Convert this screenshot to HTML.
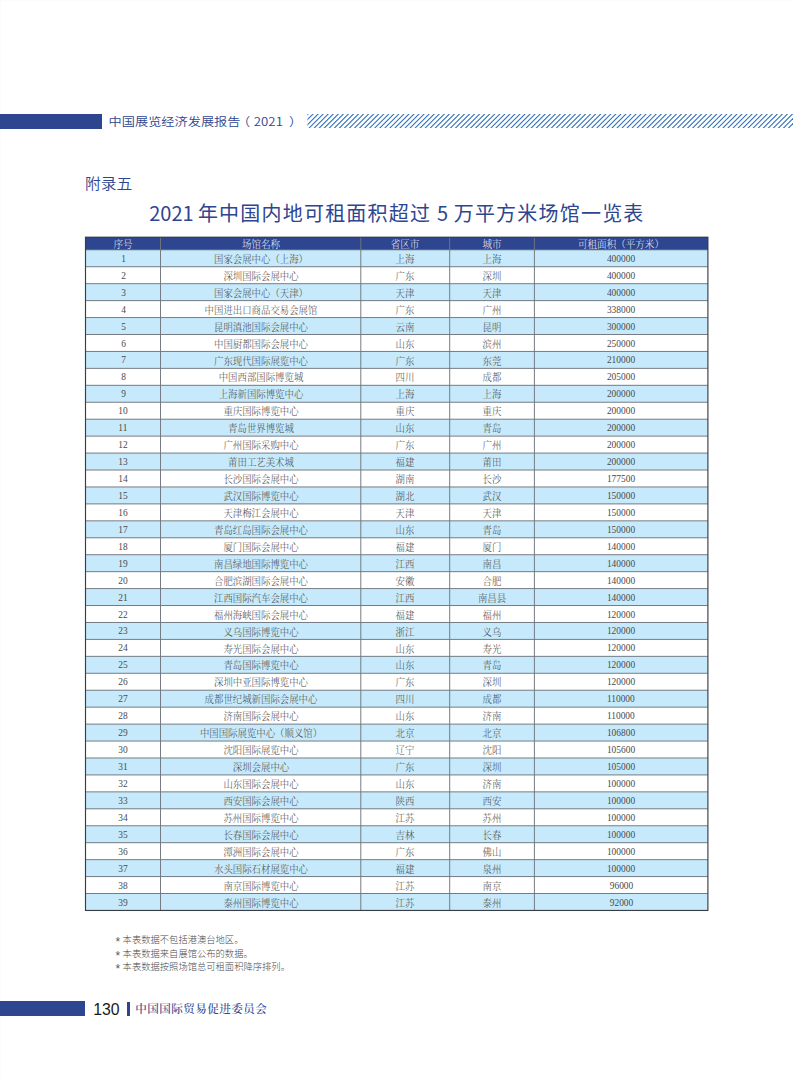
<!DOCTYPE html><html lang="zh-CN"><head><meta charset="utf-8"><title>附录五</title><style>
html,body{margin:0;padding:0;background:#fff;}
body::before{content:'';position:absolute;left:0;top:0;width:793px;height:1077px;box-sizing:border-box;border-left:1px solid #fcfcfc;border-top:1px solid #fcfcfc;}
body{width:793px;height:1077px;position:relative;overflow:hidden;font-family:"Liberation Sans","Noto Sans CJK SC",sans-serif;}
.abs{position:absolute;}
.hbar{left:0;top:114px;width:101.7px;height:14.7px;background:#2e4590;}
.htxt{left:108.6px;top:110.6px;height:21px;line-height:21px;font-size:13.2px;color:#2e4590;white-space:nowrap;font-weight:350;transform:scaleY(0.9);transform-origin:0 50%;font-family:"Noto Sans CJK SC","Liberation Sans",sans-serif;}
.htxt .pl{position:relative;left:-3.5px} .htxt .pr{position:relative;left:6px} .htxt .yr{letter-spacing:0.1px}
.app{left:85px;top:172px;height:24px;line-height:24px;font-size:15.8px;color:#2e4590;white-space:nowrap;font-weight:350;transform:scaleY(0.91);transform-origin:0 50%;font-family:"Noto Sans CJK SC","Liberation Sans",sans-serif;}
.title{left:149.2px;top:198px;height:30px;line-height:30px;font-size:20px;color:#2e4590;white-space:nowrap;font-weight:400;letter-spacing:1.21px;font-family:"Noto Sans CJK SC","Liberation Sans",sans-serif;}
.title b{font-weight:inherit;letter-spacing:0;} .title u{text-decoration:none;letter-spacing:-0.2px}
.row{left:85.5px;width:622.4px;}
.c{position:absolute;top:0;height:100%;text-align:center;white-space:nowrap;font-family:"Liberation Serif","Noto Serif CJK SC",serif;font-size:10px;line-height:18.14px;color:#4a4a4a;font-weight:300;}
.c span{display:inline-block;transform:scaleX(0.94);position:relative;top:1.1px}
.c.n span{top:0}
.h .c{color:#e8ecf6;font-size:10px;line-height:13.60px;}
.h .c span{transform:scaleX(0.955);top:0.4px}
.note{left:115.8px;font-size:9.3px;line-height:13.4px;height:13.4px;color:#4a4a4a;white-space:nowrap;font-weight:300;font-family:"Noto Sans CJK SC","Liberation Sans",sans-serif;}
.note i{font-style:normal;display:inline-block;width:6.8px;font-family:"Liberation Sans",sans-serif;font-size:12px;line-height:1px;position:relative;top:3px;left:-0.3px;color:#5a5a5a}
.fbar{left:0;top:1001.2px;width:85px;height:14.4px;background:#2e4590;}
.pno{left:93.3px;top:998.7px;height:21px;line-height:21px;font-size:15.8px;color:#1a1a1a;font-family:"Liberation Sans",sans-serif;}
.fsep{left:127.05px;top:1001.5px;width:2.75px;height:14.3px;background:#2e4590;}
.ftxt{left:135.3px;top:998.6px;height:21px;line-height:21px;font-size:11.6px;letter-spacing:0.4px;color:#2e4590;font-family:"Liberation Serif","Noto Serif CJK SC",serif;font-weight:500;white-space:nowrap;}
</style></head><body>
<div class="abs hbar"></div>
<div class="abs htxt">中国展览经济发展报告<span class="pl">（</span><span class="yr">2021</span><span class="pr">）</span></div>
<svg class="abs" style="left:0;top:0" width="793" height="140" viewBox="0 0 793 140"><svg x="307.4" y="114.1" width="485.60" height="13.80" viewBox="307.4 114.1 485.60 13.80" overflow="hidden"><g stroke="#3070bb" stroke-width="1.08"><line x1="299.87" y1="112.10" x2="282.07" y2="129.90"/><line x1="304.92" y1="112.10" x2="287.12" y2="129.90"/><line x1="309.96" y1="112.10" x2="292.16" y2="129.90"/><line x1="315.01" y1="112.10" x2="297.21" y2="129.90"/><line x1="320.05" y1="112.10" x2="302.25" y2="129.90"/><line x1="325.10" y1="112.10" x2="307.30" y2="129.90"/><line x1="330.15" y1="112.10" x2="312.35" y2="129.90"/><line x1="335.19" y1="112.10" x2="317.39" y2="129.90"/><line x1="340.24" y1="112.10" x2="322.44" y2="129.90"/><line x1="345.28" y1="112.10" x2="327.48" y2="129.90"/><line x1="350.33" y1="112.10" x2="332.53" y2="129.90"/><line x1="355.38" y1="112.10" x2="337.58" y2="129.90"/><line x1="360.42" y1="112.10" x2="342.62" y2="129.90"/><line x1="365.47" y1="112.10" x2="347.67" y2="129.90"/><line x1="370.51" y1="112.10" x2="352.71" y2="129.90"/><line x1="375.56" y1="112.10" x2="357.76" y2="129.90"/><line x1="380.61" y1="112.10" x2="362.81" y2="129.90"/><line x1="385.65" y1="112.10" x2="367.85" y2="129.90"/><line x1="390.70" y1="112.10" x2="372.90" y2="129.90"/><line x1="395.74" y1="112.10" x2="377.94" y2="129.90"/><line x1="400.79" y1="112.10" x2="382.99" y2="129.90"/><line x1="405.84" y1="112.10" x2="388.04" y2="129.90"/><line x1="410.88" y1="112.10" x2="393.08" y2="129.90"/><line x1="415.93" y1="112.10" x2="398.13" y2="129.90"/><line x1="420.97" y1="112.10" x2="403.17" y2="129.90"/><line x1="426.02" y1="112.10" x2="408.22" y2="129.90"/><line x1="431.07" y1="112.10" x2="413.27" y2="129.90"/><line x1="436.11" y1="112.10" x2="418.31" y2="129.90"/><line x1="441.16" y1="112.10" x2="423.36" y2="129.90"/><line x1="446.20" y1="112.10" x2="428.40" y2="129.90"/><line x1="451.25" y1="112.10" x2="433.45" y2="129.90"/><line x1="456.30" y1="112.10" x2="438.50" y2="129.90"/><line x1="461.34" y1="112.10" x2="443.54" y2="129.90"/><line x1="466.39" y1="112.10" x2="448.59" y2="129.90"/><line x1="471.43" y1="112.10" x2="453.63" y2="129.90"/><line x1="476.48" y1="112.10" x2="458.68" y2="129.90"/><line x1="481.53" y1="112.10" x2="463.73" y2="129.90"/><line x1="486.57" y1="112.10" x2="468.77" y2="129.90"/><line x1="491.62" y1="112.10" x2="473.82" y2="129.90"/><line x1="496.66" y1="112.10" x2="478.86" y2="129.90"/><line x1="501.71" y1="112.10" x2="483.91" y2="129.90"/><line x1="506.76" y1="112.10" x2="488.96" y2="129.90"/><line x1="511.80" y1="112.10" x2="494.00" y2="129.90"/><line x1="516.85" y1="112.10" x2="499.05" y2="129.90"/><line x1="521.89" y1="112.10" x2="504.09" y2="129.90"/><line x1="526.94" y1="112.10" x2="509.14" y2="129.90"/><line x1="531.99" y1="112.10" x2="514.19" y2="129.90"/><line x1="537.03" y1="112.10" x2="519.23" y2="129.90"/><line x1="542.08" y1="112.10" x2="524.28" y2="129.90"/><line x1="547.12" y1="112.10" x2="529.32" y2="129.90"/><line x1="552.17" y1="112.10" x2="534.37" y2="129.90"/><line x1="557.22" y1="112.10" x2="539.42" y2="129.90"/><line x1="562.26" y1="112.10" x2="544.46" y2="129.90"/><line x1="567.31" y1="112.10" x2="549.51" y2="129.90"/><line x1="572.35" y1="112.10" x2="554.55" y2="129.90"/><line x1="577.40" y1="112.10" x2="559.60" y2="129.90"/><line x1="582.45" y1="112.10" x2="564.65" y2="129.90"/><line x1="587.49" y1="112.10" x2="569.69" y2="129.90"/><line x1="592.54" y1="112.10" x2="574.74" y2="129.90"/><line x1="597.58" y1="112.10" x2="579.78" y2="129.90"/><line x1="602.63" y1="112.10" x2="584.83" y2="129.90"/><line x1="607.68" y1="112.10" x2="589.88" y2="129.90"/><line x1="612.72" y1="112.10" x2="594.92" y2="129.90"/><line x1="617.77" y1="112.10" x2="599.97" y2="129.90"/><line x1="622.81" y1="112.10" x2="605.01" y2="129.90"/><line x1="627.86" y1="112.10" x2="610.06" y2="129.90"/><line x1="632.91" y1="112.10" x2="615.11" y2="129.90"/><line x1="637.95" y1="112.10" x2="620.15" y2="129.90"/><line x1="643.00" y1="112.10" x2="625.20" y2="129.90"/><line x1="648.04" y1="112.10" x2="630.24" y2="129.90"/><line x1="653.09" y1="112.10" x2="635.29" y2="129.90"/><line x1="658.14" y1="112.10" x2="640.34" y2="129.90"/><line x1="663.18" y1="112.10" x2="645.38" y2="129.90"/><line x1="668.23" y1="112.10" x2="650.43" y2="129.90"/><line x1="673.27" y1="112.10" x2="655.47" y2="129.90"/><line x1="678.32" y1="112.10" x2="660.52" y2="129.90"/><line x1="683.37" y1="112.10" x2="665.57" y2="129.90"/><line x1="688.41" y1="112.10" x2="670.61" y2="129.90"/><line x1="693.46" y1="112.10" x2="675.66" y2="129.90"/><line x1="698.50" y1="112.10" x2="680.70" y2="129.90"/><line x1="703.55" y1="112.10" x2="685.75" y2="129.90"/><line x1="708.60" y1="112.10" x2="690.80" y2="129.90"/><line x1="713.64" y1="112.10" x2="695.84" y2="129.90"/><line x1="718.69" y1="112.10" x2="700.89" y2="129.90"/><line x1="723.73" y1="112.10" x2="705.93" y2="129.90"/><line x1="728.78" y1="112.10" x2="710.98" y2="129.90"/><line x1="733.83" y1="112.10" x2="716.03" y2="129.90"/><line x1="738.87" y1="112.10" x2="721.07" y2="129.90"/><line x1="743.92" y1="112.10" x2="726.12" y2="129.90"/><line x1="748.96" y1="112.10" x2="731.16" y2="129.90"/><line x1="754.01" y1="112.10" x2="736.21" y2="129.90"/><line x1="759.06" y1="112.10" x2="741.26" y2="129.90"/><line x1="764.10" y1="112.10" x2="746.30" y2="129.90"/><line x1="769.15" y1="112.10" x2="751.35" y2="129.90"/><line x1="774.19" y1="112.10" x2="756.39" y2="129.90"/><line x1="779.24" y1="112.10" x2="761.44" y2="129.90"/><line x1="784.29" y1="112.10" x2="766.49" y2="129.90"/><line x1="789.33" y1="112.10" x2="771.53" y2="129.90"/><line x1="794.38" y1="112.10" x2="776.58" y2="129.90"/><line x1="799.42" y1="112.10" x2="781.62" y2="129.90"/><line x1="804.47" y1="112.10" x2="786.67" y2="129.90"/><line x1="809.52" y1="112.10" x2="791.72" y2="129.90"/></g></svg></svg>
<div class="abs app">附录五</div>
<div class="abs title"><b>2021</b><u> </u>年中国内地可租面积超过 <b>5</b> 万平方米场馆一览表</div>
<div class="abs row h" style="top:237.2px;height:12.60px;background:#2e4590"><div class="c" style="left:0.0px;width:75.0px"><span>序号</span></div><div class="c" style="left:75.0px;width:200.3px"><span>场馆名称</span></div><div class="c" style="left:275.3px;width:88.9px"><span>省区市</span></div><div class="c" style="left:364.2px;width:84.7px"><span>城市</span></div><div class="c" style="left:448.9px;width:173.5px"><span>可租面积（平方米）</span></div></div>
<div class="abs row" style="top:249.80px;height:16.940px;background:#c6eafb"><div class="c n" style="left:0.0px;width:75.0px"><span>1</span></div><div class="c" style="left:75.0px;width:200.3px"><span>国家会展中心（上海）</span></div><div class="c" style="left:275.3px;width:88.9px"><span>上海</span></div><div class="c" style="left:364.2px;width:84.7px"><span>上海</span></div><div class="c n" style="left:448.9px;width:173.5px"><span>400000</span></div></div>
<div class="abs row" style="top:266.74px;height:16.940px;background:#fff"><div class="c n" style="left:0.0px;width:75.0px"><span>2</span></div><div class="c" style="left:75.0px;width:200.3px"><span>深圳国际会展中心</span></div><div class="c" style="left:275.3px;width:88.9px"><span>广东</span></div><div class="c" style="left:364.2px;width:84.7px"><span>深圳</span></div><div class="c n" style="left:448.9px;width:173.5px"><span>400000</span></div></div>
<div class="abs row" style="top:283.68px;height:16.940px;background:#c6eafb"><div class="c n" style="left:0.0px;width:75.0px"><span>3</span></div><div class="c" style="left:75.0px;width:200.3px"><span>国家会展中心（天津）</span></div><div class="c" style="left:275.3px;width:88.9px"><span>天津</span></div><div class="c" style="left:364.2px;width:84.7px"><span>天津</span></div><div class="c n" style="left:448.9px;width:173.5px"><span>400000</span></div></div>
<div class="abs row" style="top:300.62px;height:16.940px;background:#fff"><div class="c n" style="left:0.0px;width:75.0px"><span>4</span></div><div class="c" style="left:75.0px;width:200.3px"><span>中国进出口商品交易会展馆</span></div><div class="c" style="left:275.3px;width:88.9px"><span>广东</span></div><div class="c" style="left:364.2px;width:84.7px"><span>广州</span></div><div class="c n" style="left:448.9px;width:173.5px"><span>338000</span></div></div>
<div class="abs row" style="top:317.56px;height:16.940px;background:#c6eafb"><div class="c n" style="left:0.0px;width:75.0px"><span>5</span></div><div class="c" style="left:75.0px;width:200.3px"><span>昆明滇池国际会展中心</span></div><div class="c" style="left:275.3px;width:88.9px"><span>云南</span></div><div class="c" style="left:364.2px;width:84.7px"><span>昆明</span></div><div class="c n" style="left:448.9px;width:173.5px"><span>300000</span></div></div>
<div class="abs row" style="top:334.50px;height:16.940px;background:#fff"><div class="c n" style="left:0.0px;width:75.0px"><span>6</span></div><div class="c" style="left:75.0px;width:200.3px"><span>中国厨都国际会展中心</span></div><div class="c" style="left:275.3px;width:88.9px"><span>山东</span></div><div class="c" style="left:364.2px;width:84.7px"><span>滨州</span></div><div class="c n" style="left:448.9px;width:173.5px"><span>250000</span></div></div>
<div class="abs row" style="top:351.44px;height:16.940px;background:#c6eafb"><div class="c n" style="left:0.0px;width:75.0px"><span>7</span></div><div class="c" style="left:75.0px;width:200.3px"><span>广东现代国际展览中心</span></div><div class="c" style="left:275.3px;width:88.9px"><span>广东</span></div><div class="c" style="left:364.2px;width:84.7px"><span>东莞</span></div><div class="c n" style="left:448.9px;width:173.5px"><span>210000</span></div></div>
<div class="abs row" style="top:368.38px;height:16.940px;background:#fff"><div class="c n" style="left:0.0px;width:75.0px"><span>8</span></div><div class="c" style="left:75.0px;width:200.3px"><span>中国西部国际博览城</span></div><div class="c" style="left:275.3px;width:88.9px"><span>四川</span></div><div class="c" style="left:364.2px;width:84.7px"><span>成都</span></div><div class="c n" style="left:448.9px;width:173.5px"><span>205000</span></div></div>
<div class="abs row" style="top:385.32px;height:16.940px;background:#c6eafb"><div class="c n" style="left:0.0px;width:75.0px"><span>9</span></div><div class="c" style="left:75.0px;width:200.3px"><span>上海新国际博览中心</span></div><div class="c" style="left:275.3px;width:88.9px"><span>上海</span></div><div class="c" style="left:364.2px;width:84.7px"><span>上海</span></div><div class="c n" style="left:448.9px;width:173.5px"><span>200000</span></div></div>
<div class="abs row" style="top:402.26px;height:16.940px;background:#fff"><div class="c n" style="left:0.0px;width:75.0px"><span>10</span></div><div class="c" style="left:75.0px;width:200.3px"><span>重庆国际博览中心</span></div><div class="c" style="left:275.3px;width:88.9px"><span>重庆</span></div><div class="c" style="left:364.2px;width:84.7px"><span>重庆</span></div><div class="c n" style="left:448.9px;width:173.5px"><span>200000</span></div></div>
<div class="abs row" style="top:419.20px;height:16.940px;background:#c6eafb"><div class="c n" style="left:0.0px;width:75.0px"><span>11</span></div><div class="c" style="left:75.0px;width:200.3px"><span>青岛世界博览城</span></div><div class="c" style="left:275.3px;width:88.9px"><span>山东</span></div><div class="c" style="left:364.2px;width:84.7px"><span>青岛</span></div><div class="c n" style="left:448.9px;width:173.5px"><span>200000</span></div></div>
<div class="abs row" style="top:436.14px;height:16.940px;background:#fff"><div class="c n" style="left:0.0px;width:75.0px"><span>12</span></div><div class="c" style="left:75.0px;width:200.3px"><span>广州国际采购中心</span></div><div class="c" style="left:275.3px;width:88.9px"><span>广东</span></div><div class="c" style="left:364.2px;width:84.7px"><span>广州</span></div><div class="c n" style="left:448.9px;width:173.5px"><span>200000</span></div></div>
<div class="abs row" style="top:453.08px;height:16.940px;background:#c6eafb"><div class="c n" style="left:0.0px;width:75.0px"><span>13</span></div><div class="c" style="left:75.0px;width:200.3px"><span>莆田工艺美术城</span></div><div class="c" style="left:275.3px;width:88.9px"><span>福建</span></div><div class="c" style="left:364.2px;width:84.7px"><span>莆田</span></div><div class="c n" style="left:448.9px;width:173.5px"><span>200000</span></div></div>
<div class="abs row" style="top:470.02px;height:16.940px;background:#fff"><div class="c n" style="left:0.0px;width:75.0px"><span>14</span></div><div class="c" style="left:75.0px;width:200.3px"><span>长沙国际会展中心</span></div><div class="c" style="left:275.3px;width:88.9px"><span>湖南</span></div><div class="c" style="left:364.2px;width:84.7px"><span>长沙</span></div><div class="c n" style="left:448.9px;width:173.5px"><span>177500</span></div></div>
<div class="abs row" style="top:486.96px;height:16.940px;background:#c6eafb"><div class="c n" style="left:0.0px;width:75.0px"><span>15</span></div><div class="c" style="left:75.0px;width:200.3px"><span>武汉国际博览中心</span></div><div class="c" style="left:275.3px;width:88.9px"><span>湖北</span></div><div class="c" style="left:364.2px;width:84.7px"><span>武汉</span></div><div class="c n" style="left:448.9px;width:173.5px"><span>150000</span></div></div>
<div class="abs row" style="top:503.90px;height:16.940px;background:#fff"><div class="c n" style="left:0.0px;width:75.0px"><span>16</span></div><div class="c" style="left:75.0px;width:200.3px"><span>天津梅江会展中心</span></div><div class="c" style="left:275.3px;width:88.9px"><span>天津</span></div><div class="c" style="left:364.2px;width:84.7px"><span>天津</span></div><div class="c n" style="left:448.9px;width:173.5px"><span>150000</span></div></div>
<div class="abs row" style="top:520.84px;height:16.940px;background:#c6eafb"><div class="c n" style="left:0.0px;width:75.0px"><span>17</span></div><div class="c" style="left:75.0px;width:200.3px"><span>青岛红岛国际会展中心</span></div><div class="c" style="left:275.3px;width:88.9px"><span>山东</span></div><div class="c" style="left:364.2px;width:84.7px"><span>青岛</span></div><div class="c n" style="left:448.9px;width:173.5px"><span>150000</span></div></div>
<div class="abs row" style="top:537.78px;height:16.940px;background:#fff"><div class="c n" style="left:0.0px;width:75.0px"><span>18</span></div><div class="c" style="left:75.0px;width:200.3px"><span>厦门国际会展中心</span></div><div class="c" style="left:275.3px;width:88.9px"><span>福建</span></div><div class="c" style="left:364.2px;width:84.7px"><span>厦门</span></div><div class="c n" style="left:448.9px;width:173.5px"><span>140000</span></div></div>
<div class="abs row" style="top:554.72px;height:16.940px;background:#c6eafb"><div class="c n" style="left:0.0px;width:75.0px"><span>19</span></div><div class="c" style="left:75.0px;width:200.3px"><span>南昌绿地国际博览中心</span></div><div class="c" style="left:275.3px;width:88.9px"><span>江西</span></div><div class="c" style="left:364.2px;width:84.7px"><span>南昌</span></div><div class="c n" style="left:448.9px;width:173.5px"><span>140000</span></div></div>
<div class="abs row" style="top:571.66px;height:16.940px;background:#fff"><div class="c n" style="left:0.0px;width:75.0px"><span>20</span></div><div class="c" style="left:75.0px;width:200.3px"><span>合肥滨湖国际会展中心</span></div><div class="c" style="left:275.3px;width:88.9px"><span>安徽</span></div><div class="c" style="left:364.2px;width:84.7px"><span>合肥</span></div><div class="c n" style="left:448.9px;width:173.5px"><span>140000</span></div></div>
<div class="abs row" style="top:588.59px;height:16.940px;background:#c6eafb"><div class="c n" style="left:0.0px;width:75.0px"><span>21</span></div><div class="c" style="left:75.0px;width:200.3px"><span>江西国际汽车会展中心</span></div><div class="c" style="left:275.3px;width:88.9px"><span>江西</span></div><div class="c" style="left:364.2px;width:84.7px"><span>南昌县</span></div><div class="c n" style="left:448.9px;width:173.5px"><span>140000</span></div></div>
<div class="abs row" style="top:605.53px;height:16.940px;background:#fff"><div class="c n" style="left:0.0px;width:75.0px"><span>22</span></div><div class="c" style="left:75.0px;width:200.3px"><span>福州海峡国际会展中心</span></div><div class="c" style="left:275.3px;width:88.9px"><span>福建</span></div><div class="c" style="left:364.2px;width:84.7px"><span>福州</span></div><div class="c n" style="left:448.9px;width:173.5px"><span>120000</span></div></div>
<div class="abs row" style="top:622.47px;height:16.940px;background:#c6eafb"><div class="c n" style="left:0.0px;width:75.0px"><span>23</span></div><div class="c" style="left:75.0px;width:200.3px"><span>义乌国际博览中心</span></div><div class="c" style="left:275.3px;width:88.9px"><span>浙江</span></div><div class="c" style="left:364.2px;width:84.7px"><span>义乌</span></div><div class="c n" style="left:448.9px;width:173.5px"><span>120000</span></div></div>
<div class="abs row" style="top:639.41px;height:16.940px;background:#fff"><div class="c n" style="left:0.0px;width:75.0px"><span>24</span></div><div class="c" style="left:75.0px;width:200.3px"><span>寿光国际会展中心</span></div><div class="c" style="left:275.3px;width:88.9px"><span>山东</span></div><div class="c" style="left:364.2px;width:84.7px"><span>寿光</span></div><div class="c n" style="left:448.9px;width:173.5px"><span>120000</span></div></div>
<div class="abs row" style="top:656.35px;height:16.940px;background:#c6eafb"><div class="c n" style="left:0.0px;width:75.0px"><span>25</span></div><div class="c" style="left:75.0px;width:200.3px"><span>青岛国际博览中心</span></div><div class="c" style="left:275.3px;width:88.9px"><span>山东</span></div><div class="c" style="left:364.2px;width:84.7px"><span>青岛</span></div><div class="c n" style="left:448.9px;width:173.5px"><span>120000</span></div></div>
<div class="abs row" style="top:673.29px;height:16.940px;background:#fff"><div class="c n" style="left:0.0px;width:75.0px"><span>26</span></div><div class="c" style="left:75.0px;width:200.3px"><span>深圳中亚国际博览中心</span></div><div class="c" style="left:275.3px;width:88.9px"><span>广东</span></div><div class="c" style="left:364.2px;width:84.7px"><span>深圳</span></div><div class="c n" style="left:448.9px;width:173.5px"><span>120000</span></div></div>
<div class="abs row" style="top:690.23px;height:16.940px;background:#c6eafb"><div class="c n" style="left:0.0px;width:75.0px"><span>27</span></div><div class="c" style="left:75.0px;width:200.3px"><span>成都世纪城新国际会展中心</span></div><div class="c" style="left:275.3px;width:88.9px"><span>四川</span></div><div class="c" style="left:364.2px;width:84.7px"><span>成都</span></div><div class="c n" style="left:448.9px;width:173.5px"><span>110000</span></div></div>
<div class="abs row" style="top:707.17px;height:16.940px;background:#fff"><div class="c n" style="left:0.0px;width:75.0px"><span>28</span></div><div class="c" style="left:75.0px;width:200.3px"><span>济南国际会展中心</span></div><div class="c" style="left:275.3px;width:88.9px"><span>山东</span></div><div class="c" style="left:364.2px;width:84.7px"><span>济南</span></div><div class="c n" style="left:448.9px;width:173.5px"><span>110000</span></div></div>
<div class="abs row" style="top:724.11px;height:16.940px;background:#c6eafb"><div class="c n" style="left:0.0px;width:75.0px"><span>29</span></div><div class="c" style="left:75.0px;width:200.3px"><span>中国国际展览中心（顺义馆）</span></div><div class="c" style="left:275.3px;width:88.9px"><span>北京</span></div><div class="c" style="left:364.2px;width:84.7px"><span>北京</span></div><div class="c n" style="left:448.9px;width:173.5px"><span>106800</span></div></div>
<div class="abs row" style="top:741.05px;height:16.940px;background:#fff"><div class="c n" style="left:0.0px;width:75.0px"><span>30</span></div><div class="c" style="left:75.0px;width:200.3px"><span>沈阳国际展览中心</span></div><div class="c" style="left:275.3px;width:88.9px"><span>辽宁</span></div><div class="c" style="left:364.2px;width:84.7px"><span>沈阳</span></div><div class="c n" style="left:448.9px;width:173.5px"><span>105600</span></div></div>
<div class="abs row" style="top:757.99px;height:16.940px;background:#c6eafb"><div class="c n" style="left:0.0px;width:75.0px"><span>31</span></div><div class="c" style="left:75.0px;width:200.3px"><span>深圳会展中心</span></div><div class="c" style="left:275.3px;width:88.9px"><span>广东</span></div><div class="c" style="left:364.2px;width:84.7px"><span>深圳</span></div><div class="c n" style="left:448.9px;width:173.5px"><span>105000</span></div></div>
<div class="abs row" style="top:774.93px;height:16.940px;background:#fff"><div class="c n" style="left:0.0px;width:75.0px"><span>32</span></div><div class="c" style="left:75.0px;width:200.3px"><span>山东国际会展中心</span></div><div class="c" style="left:275.3px;width:88.9px"><span>山东</span></div><div class="c" style="left:364.2px;width:84.7px"><span>济南</span></div><div class="c n" style="left:448.9px;width:173.5px"><span>100000</span></div></div>
<div class="abs row" style="top:791.87px;height:16.940px;background:#c6eafb"><div class="c n" style="left:0.0px;width:75.0px"><span>33</span></div><div class="c" style="left:75.0px;width:200.3px"><span>西安国际会展中心</span></div><div class="c" style="left:275.3px;width:88.9px"><span>陕西</span></div><div class="c" style="left:364.2px;width:84.7px"><span>西安</span></div><div class="c n" style="left:448.9px;width:173.5px"><span>100000</span></div></div>
<div class="abs row" style="top:808.81px;height:16.940px;background:#fff"><div class="c n" style="left:0.0px;width:75.0px"><span>34</span></div><div class="c" style="left:75.0px;width:200.3px"><span>苏州国际博览中心</span></div><div class="c" style="left:275.3px;width:88.9px"><span>江苏</span></div><div class="c" style="left:364.2px;width:84.7px"><span>苏州</span></div><div class="c n" style="left:448.9px;width:173.5px"><span>100000</span></div></div>
<div class="abs row" style="top:825.75px;height:16.940px;background:#c6eafb"><div class="c n" style="left:0.0px;width:75.0px"><span>35</span></div><div class="c" style="left:75.0px;width:200.3px"><span>长春国际会展中心</span></div><div class="c" style="left:275.3px;width:88.9px"><span>吉林</span></div><div class="c" style="left:364.2px;width:84.7px"><span>长春</span></div><div class="c n" style="left:448.9px;width:173.5px"><span>100000</span></div></div>
<div class="abs row" style="top:842.69px;height:16.940px;background:#fff"><div class="c n" style="left:0.0px;width:75.0px"><span>36</span></div><div class="c" style="left:75.0px;width:200.3px"><span>潭洲国际会展中心</span></div><div class="c" style="left:275.3px;width:88.9px"><span>广东</span></div><div class="c" style="left:364.2px;width:84.7px"><span>佛山</span></div><div class="c n" style="left:448.9px;width:173.5px"><span>100000</span></div></div>
<div class="abs row" style="top:859.63px;height:16.940px;background:#c6eafb"><div class="c n" style="left:0.0px;width:75.0px"><span>37</span></div><div class="c" style="left:75.0px;width:200.3px"><span>水头国际石材展览中心</span></div><div class="c" style="left:275.3px;width:88.9px"><span>福建</span></div><div class="c" style="left:364.2px;width:84.7px"><span>泉州</span></div><div class="c n" style="left:448.9px;width:173.5px"><span>100000</span></div></div>
<div class="abs row" style="top:876.57px;height:16.940px;background:#fff"><div class="c n" style="left:0.0px;width:75.0px"><span>38</span></div><div class="c" style="left:75.0px;width:200.3px"><span>南京国际博览中心</span></div><div class="c" style="left:275.3px;width:88.9px"><span>江苏</span></div><div class="c" style="left:364.2px;width:84.7px"><span>南京</span></div><div class="c n" style="left:448.9px;width:173.5px"><span>96000</span></div></div>
<div class="abs row" style="top:893.51px;height:16.940px;background:#c6eafb"><div class="c n" style="left:0.0px;width:75.0px"><span>39</span></div><div class="c" style="left:75.0px;width:200.3px"><span>泰州国际博览中心</span></div><div class="c" style="left:275.3px;width:88.9px"><span>江苏</span></div><div class="c" style="left:364.2px;width:84.7px"><span>泰州</span></div><div class="c n" style="left:448.9px;width:173.5px"><span>92000</span></div></div>
<svg class="abs" style="left:0;top:0" width="793" height="1077" viewBox="0 0 793 1077"><g stroke="#70757d" stroke-width="0.95"><line x1="85.5" y1="249.80" x2="707.9" y2="249.80"/><line x1="85.5" y1="266.74" x2="707.9" y2="266.74"/><line x1="85.5" y1="283.68" x2="707.9" y2="283.68"/><line x1="85.5" y1="300.62" x2="707.9" y2="300.62"/><line x1="85.5" y1="317.56" x2="707.9" y2="317.56"/><line x1="85.5" y1="334.50" x2="707.9" y2="334.50"/><line x1="85.5" y1="351.44" x2="707.9" y2="351.44"/><line x1="85.5" y1="368.38" x2="707.9" y2="368.38"/><line x1="85.5" y1="385.32" x2="707.9" y2="385.32"/><line x1="85.5" y1="402.26" x2="707.9" y2="402.26"/><line x1="85.5" y1="419.20" x2="707.9" y2="419.20"/><line x1="85.5" y1="436.14" x2="707.9" y2="436.14"/><line x1="85.5" y1="453.08" x2="707.9" y2="453.08"/><line x1="85.5" y1="470.02" x2="707.9" y2="470.02"/><line x1="85.5" y1="486.96" x2="707.9" y2="486.96"/><line x1="85.5" y1="503.90" x2="707.9" y2="503.90"/><line x1="85.5" y1="520.84" x2="707.9" y2="520.84"/><line x1="85.5" y1="537.78" x2="707.9" y2="537.78"/><line x1="85.5" y1="554.72" x2="707.9" y2="554.72"/><line x1="85.5" y1="571.66" x2="707.9" y2="571.66"/><line x1="85.5" y1="588.59" x2="707.9" y2="588.59"/><line x1="85.5" y1="605.53" x2="707.9" y2="605.53"/><line x1="85.5" y1="622.47" x2="707.9" y2="622.47"/><line x1="85.5" y1="639.41" x2="707.9" y2="639.41"/><line x1="85.5" y1="656.35" x2="707.9" y2="656.35"/><line x1="85.5" y1="673.29" x2="707.9" y2="673.29"/><line x1="85.5" y1="690.23" x2="707.9" y2="690.23"/><line x1="85.5" y1="707.17" x2="707.9" y2="707.17"/><line x1="85.5" y1="724.11" x2="707.9" y2="724.11"/><line x1="85.5" y1="741.05" x2="707.9" y2="741.05"/><line x1="85.5" y1="757.99" x2="707.9" y2="757.99"/><line x1="85.5" y1="774.93" x2="707.9" y2="774.93"/><line x1="85.5" y1="791.87" x2="707.9" y2="791.87"/><line x1="85.5" y1="808.81" x2="707.9" y2="808.81"/><line x1="85.5" y1="825.75" x2="707.9" y2="825.75"/><line x1="85.5" y1="842.69" x2="707.9" y2="842.69"/><line x1="85.5" y1="859.63" x2="707.9" y2="859.63"/><line x1="85.5" y1="876.57" x2="707.9" y2="876.57"/><line x1="85.5" y1="893.51" x2="707.9" y2="893.51"/><line x1="160.5" y1="237.2" x2="160.5" y2="910.45"/><line x1="360.8" y1="237.2" x2="360.8" y2="910.45"/><line x1="449.7" y1="237.2" x2="449.7" y2="910.45"/><line x1="534.4" y1="237.2" x2="534.4" y2="910.45"/></g><rect x="85.5" y="237.2" width="622.4" height="673.25" fill="none" stroke="#3a3d45" stroke-width="1.15"/></svg>
<div class="abs note" style="top:933.1px"><i>*</i>本表数据不包括港澳台地区。</div>
<div class="abs note" style="top:946.5px"><i>*</i>本表数据来自展馆公布的数据。</div>
<div class="abs note" style="top:959.9px"><i>*</i>本表数据按照场馆总可租面积降序排列。</div>
<div class="abs fbar"></div><div class="abs pno">130</div><div class="abs fsep"></div><div class="abs ftxt">中国国际贸易促进委员会</div>
</body></html>
